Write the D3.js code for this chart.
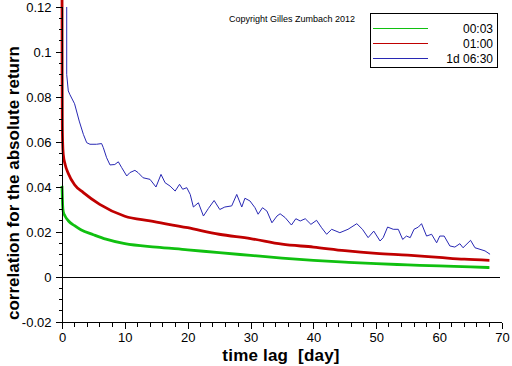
<!DOCTYPE html>
<html><head><meta charset="utf-8">
<script src="https://cdn.jsdelivr.net/npm/d3@7"></script>
<style>body{margin:0;background:#fff}svg{display:block}text{font-family:"Liberation Sans",Arial,sans-serif}</style>
</head><body><svg id="c" width="512" height="366"></svg>
<script>
const xTicks=[0,10,20,30,40,50,60,70];
const yTicks=[-0.02,0,0.02,0.04,0.06,0.08,0.1,0.12];
const seriesNames=["00:03","01:00","1d 06:30"];
const seriesColors=["#10c010","#c00000","#2828b4"];
const greenLag=[0,0.05,0.1,0.2,0.5,1,2,3,5,7,10,15,20,25,30,35,40,45,50,55,60,65,68];
const greenVal=[0.0405,0.036,0.032,0.029,0.027,0.025,0.0228,0.021,0.0188,0.0168,0.0148,0.0133,0.0121,0.0108,0.0096,0.0084,0.0074,0.0066,0.0059,0.0054,0.0049,0.0045,0.0042];
const redLag=[0,0.02,0.05,0.1,0.2,0.5,1,2,3.4,6,10,14,20,25,30,35,40,45,50,55,60,64,68];
const redVal=[0.14,0.09,0.068,0.06,0.0545,0.05,0.046,0.041,0.0375,0.0323,0.027,0.0249,0.0219,0.019,0.0171,0.0146,0.0133,0.0117,0.0105,0.0097,0.0087,0.0079,0.0074];
const blueLag=[0.75,0.75,1.0,1.27,2.0,2.74,3.4,3.93,4.45,5.5,6.3,6.57,7.1,7.64,8.4,8.96,9.5,10.3,10.8,11.6,12.1,12.9,14.0,14.95,15.75,16.4,17.2,18.0,18.7,19.2,19.85,20.4,20.9,21.7,22.5,23.3,24.2,25.1,25.9,27.0,27.8,28.6,29.1,29.9,30.7,31.2,31.9,32.6,33.4,34.2,34.7,35.5,36.5,37.2,37.9,38.7,39.6,40.5,41.3,42.1,42.9,44.2,45.5,46.9,47.8,48.7,49.6,50.6,51.1,51.8,52.7,53.5,54.2,54.8,55.4,56.0,56.7,57.2,58.0,58.8,59.6,60.1,60.8,61.7,62.5,63.3,63.8,65.0,65.7,66.5,67.3,68.1];
const blueVal=[0.12,0.090,0.0827,0.081,0.077,0.0693,0.0634,0.0597,0.059,0.059,0.0593,0.0575,0.053,0.0498,0.050,0.0512,0.0486,0.0449,0.0464,0.0474,0.0464,0.0441,0.0434,0.040,0.0456,0.0419,0.0404,0.0382,0.0412,0.039,0.0397,0.0367,0.0311,0.033,0.0271,0.0305,0.034,0.030,0.0311,0.0316,0.0367,0.0311,0.035,0.0338,0.0308,0.0279,0.0308,0.0293,0.0241,0.0271,0.0281,0.0264,0.0231,0.0259,0.0249,0.0259,0.0234,0.0252,0.0219,0.019,0.0212,0.0197,0.0212,0.0237,0.0212,0.0175,0.0204,0.016,0.0175,0.0222,0.0212,0.0212,0.0167,0.0182,0.0175,0.0212,0.0222,0.0237,0.0182,0.019,0.0152,0.0182,0.0182,0.0138,0.0133,0.0148,0.013,0.0163,0.013,0.0123,0.0116,0.0101];

const svg=d3.select("#c");
const x=d3.scaleLinear().domain([0,70]).range([62,502]);
const y=d3.scaleLinear().domain([-0.02,0.12]).range([322,7]);
const px=v=>Math.round(v)+0.5;

// zero line
svg.append("line").attr("x1",x(0)).attr("x2",500).attr("y1",px(y(0))).attr("y2",px(y(0))).attr("stroke","#000").attr("shape-rendering","crispEdges");

// series
const smooth=d3.line().curve(d3.curveMonotoneX).x(d=>x(d[0])).y(d=>y(d[1]));
const straight=d3.line().x(d=>x(d[0])).y(d=>y(d[1]));
const series=[[greenLag,greenVal],[redLag,redVal],[blueLag,blueVal]];
const widths=[2.8,2.8,1];
series.forEach((s,i)=>{
  const pts=s[0].map((l,j)=>[l,s[1][j]]);
  svg.append("path").attr("d",(i<2?smooth:straight)(pts)).attr("fill","none").attr("stroke",seriesColors[i]).attr("stroke-width",widths[i]).attr("stroke-linejoin","round");
});

// axes
const xAxis=d3.axisBottom(x).tickValues(xTicks).tickFormat(d3.format("d")).tickSize(6).tickPadding(4);
const gx=svg.append("g").attr("transform",`translate(0,${px(y(-0.02))})`).call(xAxis);
const xMinor=d3.range(0,70,2).filter(v=>v%10!==0);
gx.selectAll(".minor").data(xMinor).enter().append("line").attr("x1",d=>x(d)).attr("x2",d=>x(d)).attr("y1",0).attr("y2",4).attr("stroke","#000");
const yAxis=d3.axisLeft(y).tickValues(yTicks).tickFormat(d=>d===0?"0":String(+d.toFixed(2))).tickSize(7).tickPadding(4);
const gy=svg.append("g").attr("transform",`translate(${px(x(0))},0)`).call(yAxis);
const yMinor=d3.range(-0.02,0.1201,0.005).filter(v=>Math.abs(Math.round(v*50)-v*50)>1e-6);
gy.selectAll(".minor").data(yMinor).enter().append("line").attr("x1",-4).attr("x2",0).attr("y1",d=>y(d)).attr("y2",d=>y(d)).attr("stroke","#000");
[gx,gy].forEach(g=>{
  g.selectAll("text").attr("font-size",13).attr("font-family","Liberation Sans, Arial, sans-serif").attr("fill","#000");
  g.selectAll("line").attr("stroke","#000").attr("shape-rendering","crispEdges");
  g.select(".domain").remove();});
svg.append("line").attr("x1",x(0)).attr("x2",x(70)).attr("y1",px(y(-0.02))).attr("y2",px(y(-0.02))).attr("stroke","#000").attr("shape-rendering","crispEdges");
svg.append("line").attr("x1",px(x(0))).attr("x2",px(x(0))).attr("y1",y(-0.02)).attr("y2",y(0.12)).attr("stroke","#000").attr("shape-rendering","crispEdges");

// titles
svg.append("text").attr("x",281).attr("y",361).attr("text-anchor","middle").attr("font-size",17).attr("font-weight","bold").attr("letter-spacing",0.2).style("white-space","pre").text("time lag  [day]");
svg.append("text").attr("transform","translate(19,183) rotate(-90)").attr("text-anchor","middle").attr("font-size",17).attr("font-weight","bold").text("correlation for the absolute return");

// copyright
svg.append("text").attr("x",292).attr("y",22).attr("text-anchor","middle").attr("font-size",9).text("Copyright Gilles Zumbach 2012");

// legend
const lg=svg.append("g");
lg.append("rect").attr("x",370.5).attr("y",13.5).attr("width",127).attr("height",54).attr("fill","#fff").attr("stroke","#000").attr("shape-rendering","crispEdges");
seriesNames.forEach((n,i)=>{
  const yy=28.5+i*15;
  lg.append("line").attr("x1",373).attr("x2",428).attr("y1",yy).attr("y2",yy).attr("stroke",seriesColors[i]).attr("stroke-width",1).attr("shape-rendering","crispEdges");
  lg.append("text").attr("x",493).attr("y",yy+4).attr("text-anchor","end").attr("font-size",12).text(n);
});
</script></body></html>
